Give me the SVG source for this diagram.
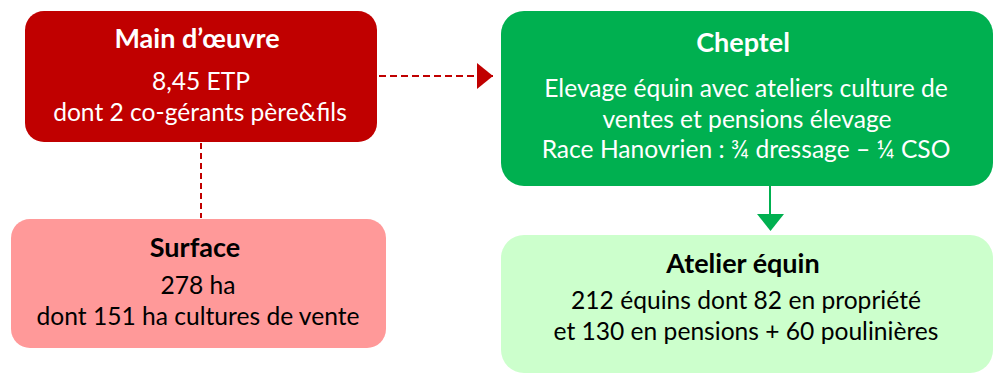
<svg xmlns="http://www.w3.org/2000/svg" width="998" height="374" viewBox="0 0 998 374">
<style>
text{font-family:Lato,"Open Sans","Liberation Sans",sans-serif;text-anchor:middle;font-size:24.6px}
.t{font-weight:bold;font-size:27px}
.w{fill:#ffffff}
.k{fill:#000000}
</style>
<defs>
<marker id="ar" markerWidth="16" markerHeight="26" refX="16" refY="13" orient="auto" markerUnits="userSpaceOnUse"><path d="M0,0 L16,13 L0,26 Z" fill="#C00000"/></marker>
</defs>
<g id="connectors">
<line x1="379" y1="76" x2="493" y2="76" stroke="#C00000" stroke-width="2" stroke-dasharray="7 4" marker-end="url(#ar)"/>
<line x1="201" y1="143" x2="201" y2="218" stroke="#C00000" stroke-width="2" stroke-dasharray="6 4"/>
<line x1="770" y1="186" x2="770" y2="215" stroke="#00B050" stroke-width="2"/>
<path d="M757,214 L784,214 L770.5,231 Z" fill="#00B050"/>
</g>
<g id="main-oeuvre">
<rect x="25" y="11" width="352" height="131" rx="19" fill="#C00000"/>
<text class="t w" x="197" y="48">Main d’œuvre</text>
<text class="w" x="201" y="90">8,45 ETP</text>
<text class="w" x="200" y="121">dont 2 co-gérants père&amp;fils</text>
</g>
<g id="surface">
<rect x="11" y="219" width="375" height="129" rx="19" fill="#FF9999"/>
<text class="t k" x="195" y="257">Surface</text>
<text class="k" x="198" y="294">278 ha</text>
<text class="k" x="198" y="325">dont 151 ha cultures de vente</text>
</g>
<g id="cheptel">
<rect x="501" y="11" width="492" height="175" rx="23" fill="#00B050"/>
<text class="t w" x="743" y="52">Cheptel</text>
<text class="w" x="746" y="97">Elevage équin avec ateliers culture de</text>
<text class="w" x="747" y="128">ventes et pensions élevage</text>
<text class="w" x="746" y="158">Race Hanovrien : ¾ dressage – ¼ CSO</text>
</g>
<g id="atelier">
<rect x="501" y="235" width="492" height="138" rx="23" fill="#CCFFCC"/>
<text class="t k" x="743" y="273">Atelier équin</text>
<text class="k" x="746" y="309">212 équins dont 82 en propriété</text>
<text class="k" x="746" y="340">et 130 en pensions + 60 poulinières</text>
</g>
</svg>
